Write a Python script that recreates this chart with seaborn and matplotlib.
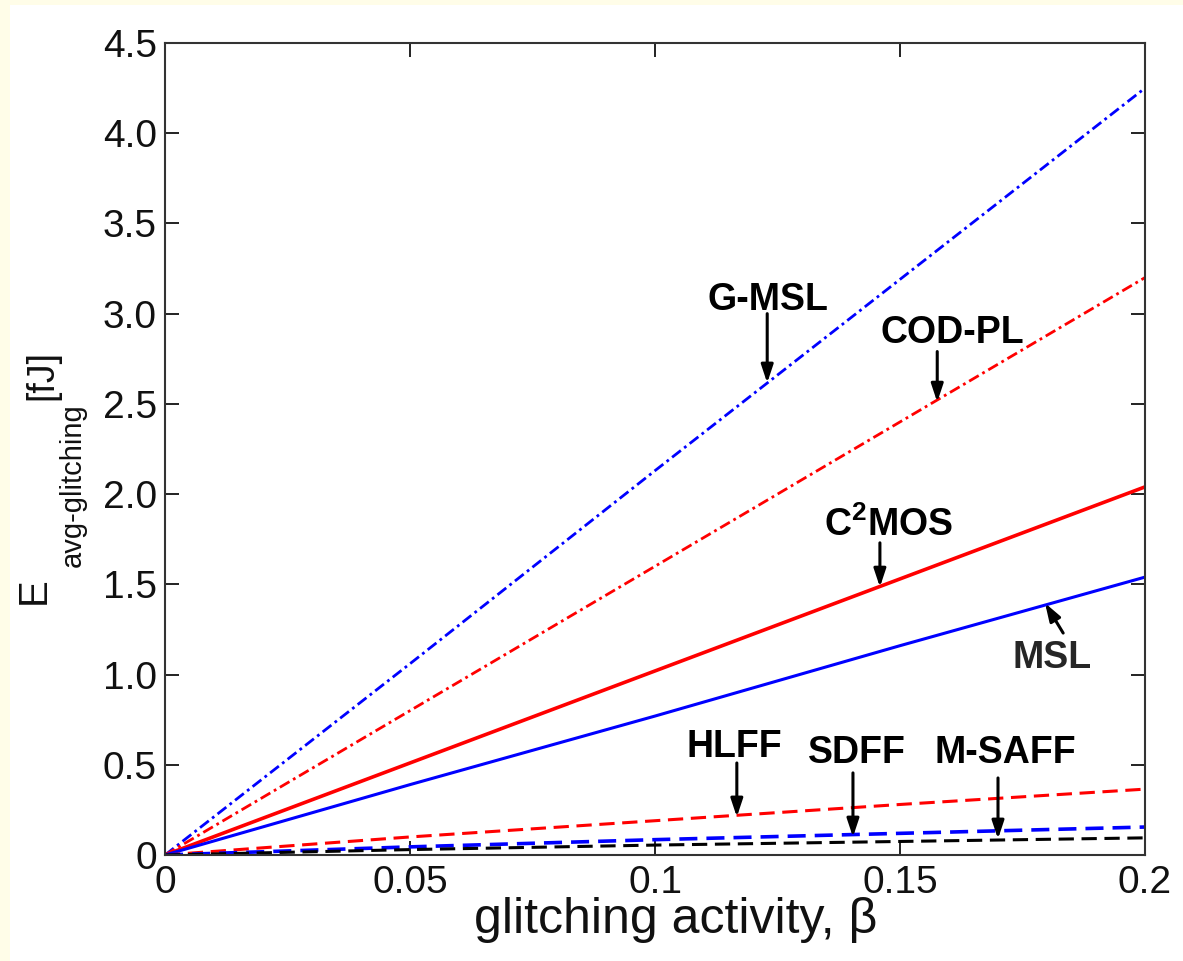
import matplotlib
matplotlib.use("Agg")
import matplotlib.pyplot as plt
import seaborn as sns
import pandas as pd
from matplotlib.patches import Rectangle

beta = [0.0, 0.05, 0.1, 0.15, 0.2]
g_msl = [0.0, 1.06, 2.13, 3.19, 4.25]
cod_pl = [0.0, 0.80, 1.60, 2.40, 3.20]
c2mos = [0.0, 0.51, 1.02, 1.53, 2.04]
msl = [0.0, 0.39, 0.77, 1.16, 1.54]
hlff = [0.0, 0.10, 0.19, 0.28, 0.365]
sdff = [0.0, 0.045, 0.085, 0.12, 0.155]
m_saff = [0.0, 0.03, 0.055, 0.075, 0.095]

xticks = [0, 0.05, 0.1, 0.15, 0.2]
xticklabels = ["0", "0.05", "0.1", "0.15", "0.2"]
yticks = [0, 0.5, 1.0, 1.5, 2.0, 2.5, 3.0, 3.5, 4.0, 4.5]
yticklabels = ["0", "0.5", "1.0", "1.5", "2.0", "2.5", "3.0", "3.5", "4.0", "4.5"]

series = {
    "G-MSL": (g_msl, "#0000ff", (0, (4, 1.5, 1, 1.5)), 2.0),
    "COD-PL": (cod_pl, "#ff0000", (0, (4, 1.5, 1, 1.5)), 2.0),
    "C2MOS": (c2mos, "#ff0000", "-", 2.6),
    "MSL": (msl, "#0000ff", "-", 2.2),
    "HLFF": (hlff, "#ff0000", (0, (5, 2.5)), 2.2),
    "SDFF": (sdff, "#0000ff", (0, (5, 2.5)), 2.6),
    "M-SAFF": (m_saff, "#000000", (0, (5, 2.5)), 2.2),
}

sns.set_theme(style="ticks")
plt.rcParams['font.family'] = ['Liberation Sans', 'DejaVu Sans']
plt.rcParams['mathtext.fontset'] = 'custom'
plt.rcParams['mathtext.rm'] = 'Liberation Sans'
plt.rcParams['mathtext.it'] = 'Liberation Sans'
plt.rcParams['mathtext.bf'] = 'Liberation Sans:bold'

W, H = 1183, 961
fig = plt.figure(figsize=(W/100, H/100), dpi=100, facecolor="white")
fig.patches.append(Rectangle((0, 0.995), 1, 0.005, transform=fig.transFigure,
                             facecolor="#fffde8", edgecolor="none", zorder=-1))
fig.patches.append(Rectangle((0, 0), 0.0085, 1, transform=fig.transFigure,
                             facecolor="#fffde8", edgecolor="none", zorder=-1))
ax = fig.add_axes([165/W, 1-855/H, (1145-165)/W, (855-43)/H])

for name, (vals, color, ls, lw) in series.items():
    df = pd.DataFrame({"beta": beta, "E": vals})
    sns.lineplot(data=df, x="beta", y="E", ax=ax, color=color, linestyle=ls,
                 linewidth=lw, legend=False)

ax.set_xlim(0, 0.2)
ax.set_ylim(0, 4.5)
ax.set_xticks(xticks)
ax.set_xticklabels(xticklabels)
ax.set_yticks(yticks)
ax.set_yticklabels(yticklabels)
ax.tick_params(direction="in", length=10, width=1.3, labelsize=28, colors="#111111",
               top=True, right=True)
ax.tick_params(axis="y", pad=6)
ax.tick_params(axis="x", pad=7)
for sp in ax.spines.values():
    sp.set_linewidth(1.5)
    sp.set_color("#333333")
    sp.set_visible(True)

ax.set_xlabel("glitching activity, β", fontsize=36, labelpad=-2, color="#111111")
ax.xaxis.set_label_coords(0.521, -0.052)
ax.set_ylabel("")

# y-axis label built from pieces: E, subscript, unit
lkw = dict(rotation=90, rotation_mode="anchor", va="baseline", color="#111111")
fig.text(45/W, 1-591/H, "E", fontsize=29, ha="center", **lkw)
fig.text(81/W, 1-567/H, "avg-glitching", fontsize=21, ha="left", **lkw)
fig.text(52/W, 1-400/H, "[fJ]", fontsize=27, ha="left", **lkw)

arrow = dict(arrowstyle="-|>,head_length=0.9,head_width=0.3", color="black", lw=2.2,
             shrinkA=0, shrinkB=0)
tkw = dict(fontsize=27, fontweight="bold", ha="center", va="baseline", color="black")

ax.text(0.1231, 3.02, "G-MSL", **tkw)
ax.annotate("", xy=(0.1229, 2.616), xytext=(0.1229, 3.00), arrowprops=arrow)
ax.text(0.1606, 2.84, "COD-PL", **tkw)
ax.annotate("", xy=(0.1576, 2.51), xytext=(0.1576, 2.79), arrowprops=arrow)
ax.text(0.1476, 1.77, r"C$^{\mathbf{2}}$MOS", **tkw)
ax.annotate("", xy=(0.1459, 1.485), xytext=(0.1459, 1.73), arrowprops=arrow)
ax.text(0.1810, 1.092, "MSL", fontsize=27, fontweight="bold", ha="center", va="center")
ax.annotate("", xy=(0.1796, 1.396), xytext=(0.1833, 1.23), arrowprops=arrow)
ax.text(0.1161, 0.543, "HLFF", **tkw)
ax.annotate("", xy=(0.1167, 0.211), xytext=(0.1167, 0.51), arrowprops=arrow)
ax.text(0.1412, 0.510, "SDFF", **tkw)
ax.annotate("", xy=(0.1404, 0.100), xytext=(0.1404, 0.455), arrowprops=arrow)
ax.text(0.1714, 0.510, "M-SAFF", **tkw)
ax.annotate("", xy=(0.1700, 0.089), xytext=(0.1700, 0.427), arrowprops=arrow)

fig.savefig("out.png", dpi=100, facecolor=fig.get_facecolor())
